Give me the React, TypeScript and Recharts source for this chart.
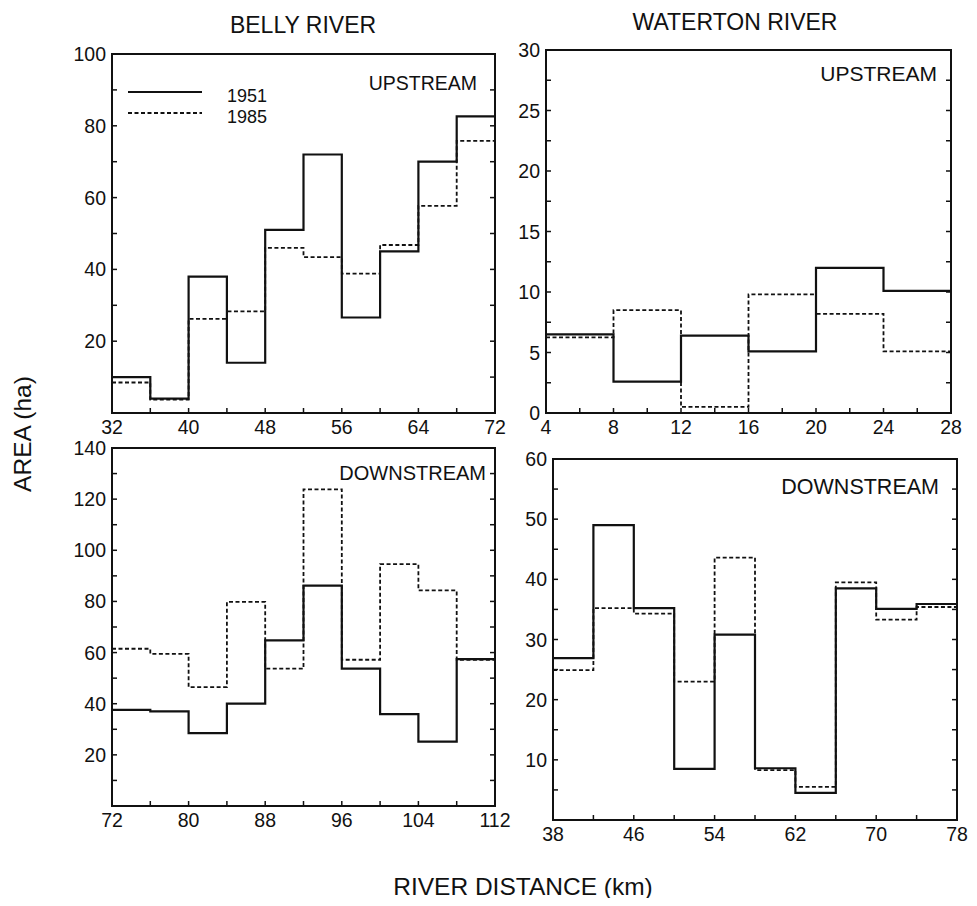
import { ComposedChart, Line, ReferenceArea, XAxis, YAxis } from 'recharts'

const FONT = '"Liberation Sans", Arial, Helvetica, sans-serif'
const INK = '#111'

// Belly River, upstream reach (km 32-72)
const BELLY_UP_EDGES = [32, 36, 40, 44, 48, 52, 56, 60, 64, 68, 72]
const BELLY_UP_1951 = [10, 4, 38, 14, 51, 72, 26.6, 45, 70, 82.6]
const BELLY_UP_1985 = [8.5, 3.7, 26.2, 28.3, 46, 43.4, 38.8, 46.8, 57.7, 75.8]
const BELLY_UP_X_LABELS = [32, 40, 48, 56, 64, 72]
const BELLY_UP_Y_TICKS = [10, 20, 30, 40, 50, 60, 70, 80, 90, 100]
const BELLY_UP_Y_LABELS = [20, 40, 60, 80, 100]

// Waterton River, upstream reach (km 4-28)
const WATERTON_UP_EDGES = [4, 8, 12, 16, 20, 24, 28]
const WATERTON_UP_1951 = [6.5, 2.6, 6.4, 5.1, 12, 10.1]
const WATERTON_UP_1985 = [6.25, 8.5, 0.5, 9.8, 8.2, 5.1]
const WATERTON_UP_X_TICKS = [4, 6, 8, 10, 12, 14, 16, 18, 20, 22, 24, 26, 28]
const WATERTON_UP_X_LABELS = [4, 8, 12, 16, 20, 24, 28]
const WATERTON_UP_Y_TICKS = [0, 2.5, 5, 7.5, 10, 12.5, 15, 17.5, 20, 22.5, 25, 27.5, 30]
const WATERTON_UP_Y_LABELS = [0, 5, 10, 15, 20, 25, 30]

// Belly River, downstream reach (km 72-112)
const BELLY_DOWN_EDGES = [72, 76, 80, 84, 88, 92, 96, 100, 104, 108, 112]
const BELLY_DOWN_1951 = [37.6, 37, 28.5, 40, 64.8, 86.2, 53.7, 35.9, 25.2, 57.4]
const BELLY_DOWN_1985 = [61.5, 59.5, 46.5, 79.8, 53.7, 123.8, 57.2, 94.6, 84.3, 57.2]
const BELLY_DOWN_X_LABELS = [72, 80, 88, 96, 104, 112]
const BELLY_DOWN_Y_TICKS = [10, 20, 30, 40, 50, 60, 70, 80, 90, 100, 110, 120, 130, 140]
const BELLY_DOWN_Y_LABELS = [20, 40, 60, 80, 100, 120, 140]

// Waterton River, downstream reach (km 38-78)
const WATERTON_DOWN_EDGES = [38, 42, 46, 50, 54, 58, 62, 66, 70, 74, 78]
const WATERTON_DOWN_1951 = [26.9, 49, 35.2, 8.5, 30.8, 8.6, 4.5, 38.5, 35.1, 35.9]
const WATERTON_DOWN_1985 = [24.9, 35.2, 34.3, 23, 43.6, 8.3, 5.5, 39.5, 33.3, 35.4]
const WATERTON_DOWN_X_LABELS = [38, 46, 54, 62, 70, 78]
const WATERTON_DOWN_Y_TICKS = [5, 10, 15, 20, 25, 30, 35, 40, 45, 50, 55, 60]
const WATERTON_DOWN_Y_LABELS = [10, 20, 30, 40, 50, 60]

const PAD_L = 60
const PAD_R = 24
const PAD_T = 15
const PAD_B = 40
const TICK_FONT = 19.5
const TICK_LEN = 5

type PanelProps = {
  edges: number[]
  s1951: number[]
  s1985: number[]
  xTicks: number[]
  xLabels: number[]
  yTicks: number[]
  yLabels: number[]
  yMax: number
  box: [number, number, number, number] // plot left, top, right, bottom (page px)
}

function Panel({ edges, s1951, s1985, xTicks, xLabels, yTicks, yLabels, yMax, box }: PanelProps) {
  // step rows: one per bin edge, the last edge repeats the last bin
  const rows = edges.map((km, i) => ({
    km,
    y1951: s1951[Math.min(i, s1951.length - 1)],
    y1985: s1985[Math.min(i, s1985.length - 1)],
  }))
  const [L, T, R, B] = box
  const plotL = PAD_L
  const plotR = PAD_L + (R - L)
  const plotB = PAD_T + (B - T)
  const xMin = edges[0]
  const xMax = edges[edges.length - 1]

  // inward ticks on both sides, label only on the major ones
  const yTick = (props: any) => {
    const y = props.y
    const v = props.payload?.value
    return (
      <g>
        <line x1={plotL} x2={plotL + TICK_LEN} y1={y} y2={y} stroke={INK} strokeWidth={1.5} />
        <line x1={plotR - TICK_LEN} x2={plotR} y1={y} y2={y} stroke={INK} strokeWidth={1.5} />
        {yLabels.includes(v) && (
          <text
            x={plotL - 6}
            y={y}
            dy="0.36em"
            textAnchor="end"
            fill={INK}
            fontSize={TICK_FONT}
            fontFamily={FONT}
          >
            {v}
          </text>
        )}
      </g>
    )
  }

  const xTick = (props: any) => {
    const x = props.x
    const v = props.payload?.value
    return (
      <g>
        <line x1={x} x2={x} y1={plotB} y2={plotB - TICK_LEN} stroke={INK} strokeWidth={1.5} />
        {xLabels.includes(v) && (
          <text
            x={x}
            y={plotB + 21}
            textAnchor="middle"
            fill={INK}
            fontSize={TICK_FONT}
            fontFamily={FONT}
          >
            {v}
          </text>
        )}
      </g>
    )
  }

  return (
    <div style={{ position: 'absolute', left: L - PAD_L - 8, top: T - PAD_T - 8 }}>
      <ComposedChart
        width={R - L + PAD_L + PAD_R}
        height={B - T + PAD_T + PAD_B}
        data={rows}
        margin={{ top: PAD_T, right: PAD_R, left: 0, bottom: 0 }}
      >
        <XAxis
          xAxisId="b"
          type="number"
          dataKey="km"
          domain={[xMin, xMax]}
          ticks={xTicks}
          interval={0}
          allowDataOverflow
          height={PAD_B}
          axisLine={false}
          tickLine={false}
          tick={xTick}
        />
        <YAxis
          yAxisId="l"
          type="number"
          domain={[0, yMax]}
          ticks={yTicks}
          interval={0}
          allowDataOverflow
          width={PAD_L}
          axisLine={false}
          tickLine={false}
          tick={yTick}
        />
        <Line
          xAxisId="b"
          yAxisId="l"
          dataKey="y1985"
          name="1985"
          type="stepAfter"
          stroke={INK}
          strokeWidth={1.8}
          strokeDasharray="4 2.5"
          dot={false}
          activeDot={false}
          isAnimationActive={false}
        />
        <Line
          xAxisId="b"
          yAxisId="l"
          dataKey="y1951"
          name="1951"
          type="stepAfter"
          stroke={INK}
          strokeWidth={2.2}
          dot={false}
          activeDot={false}
          isAnimationActive={false}
        />
        <ReferenceArea
          xAxisId="b"
          yAxisId="l"
          x1={xMin}
          x2={xMax}
          y1={0}
          y2={yMax}
          fill="none"
          fillOpacity={0}
          stroke={INK}
          strokeWidth={2}
          strokeOpacity={1}
          ifOverflow="visible"
        />
      </ComposedChart>
    </div>
  )
}

function Txt({
  x,
  y,
  size,
  anchor = 'middle',
  rotate = false,
  children,
}: {
  x: number
  y: number
  size: number
  anchor?: 'start' | 'middle' | 'end'
  rotate?: boolean
  children: string
}) {
  const tx = anchor === 'start' ? '0' : anchor === 'end' ? '-100%' : '-50%'
  return (
    <div
      style={{
        position: 'absolute',
        left: x - 8,
        top: y - 8,
        transform: `translate(${tx}, -50%)${rotate ? ' rotate(-90deg)' : ''}`,
        fontFamily: FONT,
        fontSize: size,
        lineHeight: 1,
        color: INK,
        whiteSpace: 'nowrap',
      }}
    >
      {children}
    </div>
  )
}

function LegendRow({ y, dashed, label }: { y: number; dashed: boolean; label: string }) {
  return (
    <>
      <svg
        width={76}
        height={6}
        style={{ position: 'absolute', left: 128 - 8, top: y - 3 - 8 }}
      >
        <line
          x1={0}
          x2={74}
          y1={3}
          y2={3}
          stroke={INK}
          strokeWidth={dashed ? 1.8 : 2.2}
          strokeDasharray={dashed ? '4 2.5' : undefined}
        />
      </svg>
      <Txt x={227} y={y + 4} size={18} anchor="start">
        {label}
      </Txt>
    </>
  )
}

export default function App() {
  return (
    <div style={{ position: 'relative', width: 961, height: 890, background: '#fff' }}>
      <Panel
        edges={BELLY_UP_EDGES}
        s1951={BELLY_UP_1951}
        s1985={BELLY_UP_1985}
        xTicks={BELLY_UP_EDGES}
        xLabels={BELLY_UP_X_LABELS}
        yTicks={BELLY_UP_Y_TICKS}
        yLabels={BELLY_UP_Y_LABELS}
        yMax={100}
        box={[112, 54, 495, 413]}
      />
      <Panel
        edges={WATERTON_UP_EDGES}
        s1951={WATERTON_UP_1951}
        s1985={WATERTON_UP_1985}
        xTicks={WATERTON_UP_X_TICKS}
        xLabels={WATERTON_UP_X_LABELS}
        yTicks={WATERTON_UP_Y_TICKS}
        yLabels={WATERTON_UP_Y_LABELS}
        yMax={30}
        box={[546, 50, 951, 413]}
      />
      <Panel
        edges={BELLY_DOWN_EDGES}
        s1951={BELLY_DOWN_1951}
        s1985={BELLY_DOWN_1985}
        xTicks={BELLY_DOWN_EDGES}
        xLabels={BELLY_DOWN_X_LABELS}
        yTicks={BELLY_DOWN_Y_TICKS}
        yLabels={BELLY_DOWN_Y_LABELS}
        yMax={140}
        box={[112, 448, 495, 806]}
      />
      <Panel
        edges={WATERTON_DOWN_EDGES}
        s1951={WATERTON_DOWN_1951}
        s1985={WATERTON_DOWN_1985}
        xTicks={WATERTON_DOWN_EDGES}
        xLabels={WATERTON_DOWN_X_LABELS}
        yTicks={WATERTON_DOWN_Y_TICKS}
        yLabels={WATERTON_DOWN_Y_LABELS}
        yMax={60}
        box={[553, 459, 957, 820]}
      />

      <Txt x={303} y={25} size={23}>BELLY RIVER</Txt>
      <Txt x={735} y={22} size={23}>WATERTON RIVER</Txt>
      <Txt x={23} y={434} size={24.5} rotate>AREA (ha)</Txt>
      <Txt x={523} y={887} size={24.5}>RIVER DISTANCE (km)</Txt>

      <Txt x={477} y={84} size={19.5} anchor="end">UPSTREAM</Txt>
      <Txt x={937} y={73} size={21} anchor="end">UPSTREAM</Txt>
      <Txt x={486} y={473} size={20} anchor="end">DOWNSTREAM</Txt>
      <Txt x={939} y={488} size={21.5} anchor="end">DOWNSTREAM</Txt>

      <LegendRow y={92} dashed={false} label="1951" />
      <LegendRow y={113} dashed={true} label="1985" />
    </div>
  )
}
